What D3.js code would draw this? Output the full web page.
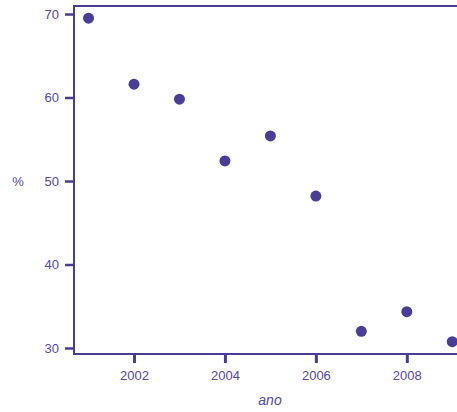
<!DOCTYPE html>
<html>
<head>
<meta charset="utf-8">
<script src="https://cdn.jsdelivr.net/npm/d3@7"></script>
<style>
  body { margin: 0; background: #fff; }
  svg { display: block; }
  .axis text { font-family: "Liberation Sans", Arial, sans-serif; font-size: 13px; fill: #5548a6; }
  .axis path, .axis line { stroke: #4a3d98; }
</style>
</head>
<body>
<svg id="chart" width="457" height="412"></svg>
<script>
// data
var years = [2001, 2002, 2003, 2004, 2005, 2006, 2007, 2008, 2009];
var pct = [69.5, 61.6, 59.8, 52.4, 55.4, 48.2, 32.0, 34.35, 30.75];
var xTicks = [2002, 2004, 2006, 2008];
var yTicks = [30, 40, 50, 60, 70];

var col = "#4a3d98";
var svg = d3.select("#chart");

// plot box (note: "top" is taken by window.top, so use other names)
var pLeft = 74, pTop = 6, pRight = 460, pBottom = 354;

var x = d3.scaleLinear().domain([2000.68, 2009.17]).range([pLeft, pRight]);
var y = d3.scaleLinear().domain([29.28, 70.96]).range([pBottom, pTop]);

// frame
svg.append("rect")
    .attr("x", pLeft).attr("y", pTop)
    .attr("width", pRight - pLeft).attr("height", pBottom - pTop)
    .attr("fill", "none").attr("stroke", col).attr("stroke-width", 2);

var yAxis = svg.append("g")
    .attr("class", "axis")
    .attr("transform", "translate(" + pLeft + ",0)")
    .call(d3.axisLeft(y).tickValues(yTicks).tickSize(9).tickPadding(6).tickSizeOuter(0));
yAxis.select(".domain").remove();
yAxis.selectAll("line").attr("stroke-width", 2.5);

var xAxis = svg.append("g")
    .attr("class", "axis")
    .attr("transform", "translate(0," + pBottom + ")")
    .call(d3.axisBottom(x).tickValues(xTicks).tickFormat(d3.format("d")).tickSize(9).tickPadding(8).tickSizeOuter(0));
xAxis.select(".domain").remove();
xAxis.selectAll("line").attr("stroke-width", 3);

// axis titles
svg.append("text")
    .attr("x", 18).attr("y", y(50) + 5)
    .attr("text-anchor", "middle")
    .style("font-family", "Liberation Sans, Arial, sans-serif")
    .style("font-size", "13px")
    .attr("fill", "#5548a6")
    .text("%");

svg.append("text")
    .attr("x", 270).attr("y", 405)
    .attr("text-anchor", "middle")
    .style("font-family", "Liberation Sans, Arial, sans-serif")
    .style("font-size", "14px")
    .style("font-style", "italic")
    .attr("fill", "#5548a6")
    .text("ano");

// points
svg.append("g")
    .selectAll("circle")
    .data(years)
    .enter().append("circle")
    .attr("cx", function(d) { return x(d); })
    .attr("cy", function(d, i) { return y(pct[i]); })
    .attr("r", 5.5)
    .attr("fill", col);
</script>
</body>
</html>
